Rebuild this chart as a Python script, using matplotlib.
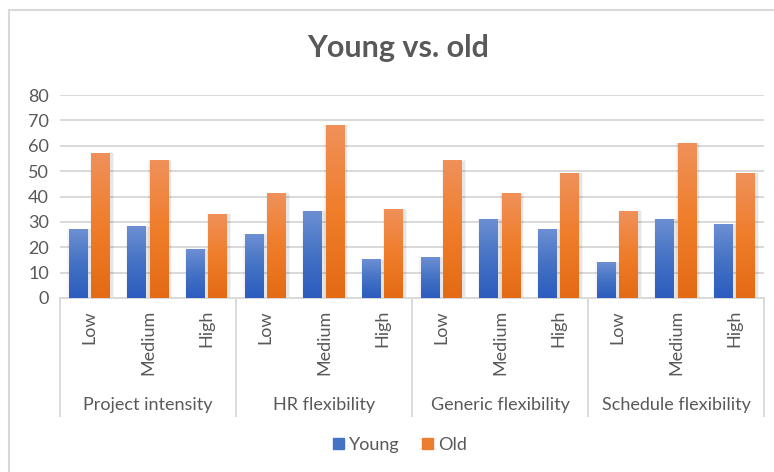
import numpy as np
import matplotlib.pyplot as plt
from matplotlib.colors import LinearSegmentedColormap
from matplotlib.lines import Line2D
from matplotlib.patches import Rectangle
import matplotlib.transforms as mtransforms

plt.rcParams['font.family'] = ['Lato', 'DejaVu Sans']

groups = ['Project intensity', 'HR flexibility', 'Generic flexibility', 'Schedule flexibility']
levels = ['Low', 'Medium', 'High']
young = [27, 28, 19, 25, 34, 15, 16, 31, 27, 14, 31, 29]
old = [57, 54, 33, 41, 68, 35, 54, 41, 49, 34, 61, 49]

TEXT = '#595959'
GRID = '#d9d9d9'

blue_cmap = LinearSegmentedColormap.from_list('blue', ['#2c5cbf', '#4472c4', '#6d8fd3'])
orange_cmap = LinearSegmentedColormap.from_list('orange', ['#e46a14', '#f07d2a', '#ef915a'])
grad = np.linspace(0, 1, 256).reshape(-1, 1)


def gradient_bars(ax, xs, heights, width, cmap):
    for x, h in zip(xs, heights):
        # soft drop shadow
        for k, a in ((0.045, 0.04), (0.025, 0.06)):
            ax.add_patch(Rectangle((x - width / 2 - k + 0.02, 0), width + 2 * k, h + k * 6,
                                   facecolor='#000000', alpha=a, lw=0, zorder=2))
        ax.imshow(grad, extent=(x - width / 2, x + width / 2, 0, h), origin='lower',
                  cmap=cmap, aspect='auto', zorder=3, interpolation='bilinear')


def main():
    fig = plt.figure(figsize=(7.74, 4.72), dpi=100)
    W, H = 774, 472
    ax = fig.add_axes([60 / W, (H - 298) / H, 704 / W, 203 / H])

    n = len(young)
    x = np.arange(n)
    width = 0.32
    gradient_bars(ax, x - 0.19, young, width, blue_cmap)
    gradient_bars(ax, x + 0.19, old, width, orange_cmap)

    ax.set_xlim(-0.5, n - 0.5)
    ax.set_ylim(0, 80)
    ax.set_yticks(range(0, 81, 10))
    ax.yaxis.grid(True, color=GRID, linewidth=1.4)
    ax.set_axisbelow(True)
    for s in ['top', 'right', 'left']:
        ax.spines[s].set_visible(False)
    ax.spines['bottom'].set_color(GRID)
    ax.spines['bottom'].set_linewidth(1.4)
    ax.tick_params(axis='y', length=0, labelsize=13, labelcolor=TEXT, pad=8)
    ax.set_xticks([])

    # two-level category axis
    px = mtransforms.blended_transform_factory(ax.transData, fig.transFigure)
    for i, lab in enumerate(levels * len(groups)):
        ax.text(i, (H - 310) / H, lab, transform=px, rotation=90, ha='center', va='top',
                fontsize=13, color=TEXT)
    for g, name in enumerate(groups):
        ax.text(g * 3 + 1, (H - 405) / H, name, transform=px, ha='center', va='center',
                fontsize=13, color=TEXT)
    for b in np.arange(-0.5, n, 3):
        ax.add_line(Line2D([b, b], [(H - 298) / H, (H - 416) / H], transform=px,
                           color=GRID, linewidth=1.4, clip_on=False))

    fig.text(398 / W, (H - 48) / H, 'Young vs. old', ha='center', va='center',
             fontsize=22, fontweight='bold', color=TEXT)

    handles = [Rectangle((0, 0), 1, 1, color='#4472c4'), Rectangle((0, 0), 1, 1, color='#ed7d31')]
    fig.legend(handles, ['Young', 'Old'], loc='center', bbox_to_anchor=(400 / W, (H - 445) / H),
               ncol=2, frameon=False, fontsize=13, labelcolor=TEXT, handlelength=0.6,
               handleheight=0.6, handletextpad=0.3, columnspacing=1.2)

    # chart border (top and left edges visible)
    fig.add_artist(Line2D([8.5 / W, 1], [(H - 10) / H, (H - 10) / H], color=GRID, linewidth=1.5))
    fig.add_artist(Line2D([8.5 / W, 8.5 / W], [0, (H - 10) / H], color=GRID, linewidth=1.5))

    fig.savefig('out.png', dpi=100)


if __name__ == "__main__":
    main()
